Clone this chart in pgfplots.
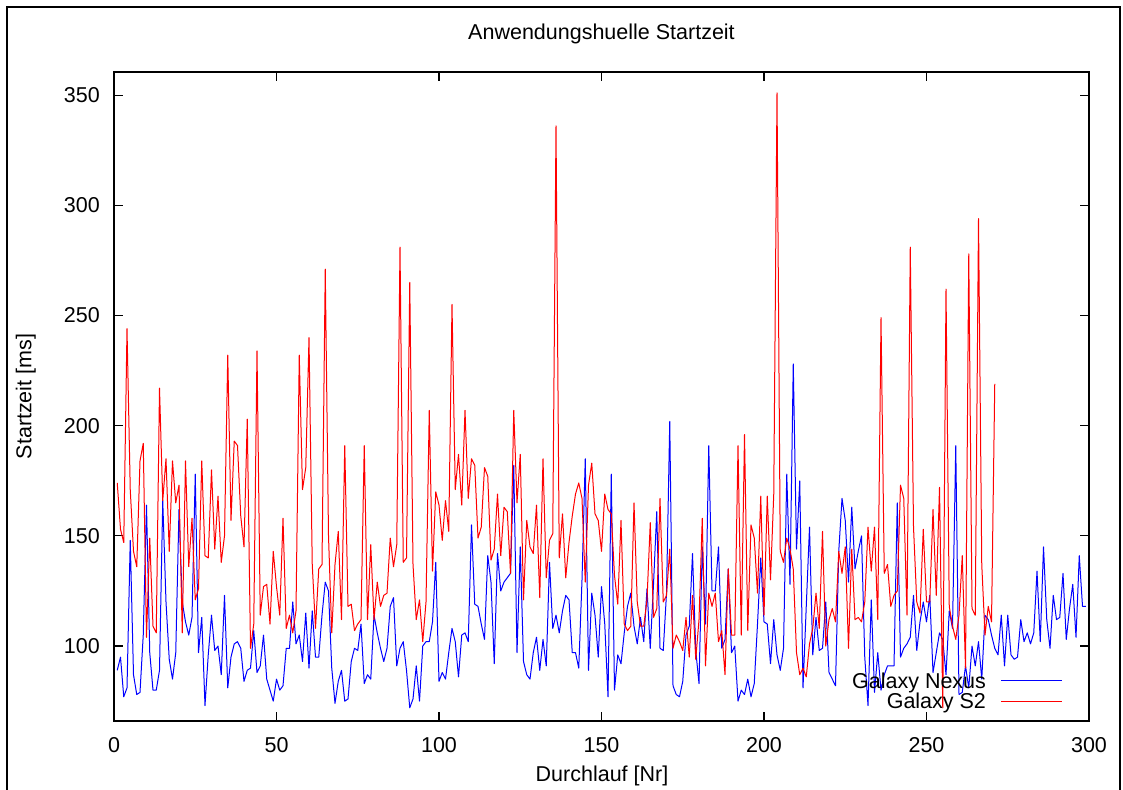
\documentclass[border=0pt]{standalone}
\usepackage{fontspec}
\setmainfont{Liberation Sans}
\usepackage{pgfplots}
\usepackage{pgfplotstable}
\pgfplotsset{compat=1.18}
\pgfplotstableread{
x y
1 89
2 95
3 77
4 81
5 148
6 87
7 78
8 79
9 105
10 164
11 97
12 80
13 80
14 89
15 166
16 120
17 94
18 85
19 97
20 162
21 120
22 111
23 105
24 113
25 178
26 97
27 113
28 73
29 96
30 114
31 98
32 100
33 87
34 123
35 81
36 95
37 101
38 102
39 99
40 84
41 89
42 90
43 107
44 88
45 91
46 105
47 85
48 80
49 75
50 85
51 80
52 82
53 99
54 99
55 120
56 101
57 105
58 93
59 115
60 90
61 116
62 95
63 95
64 114
65 129
66 125
67 90
68 74
69 84
70 89
71 75
72 76
73 93
74 99
75 98
76 110
77 83
78 87
79 85
80 114
81 106
82 99
83 93
84 99
85 118
86 122
87 91
88 99
89 102
90 89
91 72
92 76
93 91
94 75
95 100
96 102
97 102
98 111
99 138
100 84
101 88
102 85
103 97
104 108
105 102
106 86
107 105
108 106
109 102
110 155
111 119
112 118
113 110
114 103
115 141
116 129
117 92
118 142
119 125
120 129
121 131
122 133
123 182
124 97
125 145
126 93
127 87
128 85
129 97
130 104
131 89
132 103
133 91
134 138
135 108
136 114
137 106
138 116
139 123
140 121
141 97
142 97
143 90
144 130
145 185
146 89
147 124
148 114
149 95
150 127
151 110
152 77
153 178
154 80
155 96
156 92
157 106
158 118
159 124
160 109
161 101
162 113
163 102
164 126
165 99
166 128
167 161
168 99
169 98
170 124
171 202
172 82
173 78
174 77
175 84
176 105
177 109
178 142
179 98
180 83
181 145
182 110
183 191
184 125
185 125
186 145
187 99
188 103
189 135
190 97
191 100
192 75
193 80
194 78
195 85
196 77
197 83
198 110
199 140
200 111
201 110
202 92
203 112
204 96
205 89
206 99
207 178
208 128
209 228
210 144
211 175
212 81
213 118
214 154
215 96
216 113
217 98
218 99
219 120
220 88
221 85
222 82
223 143
224 167
225 157
226 129
227 163
228 135
229 143
230 150
231 95
232 73
233 121
234 79
235 97
236 80
237 87
238 91
239 91
240 91
241 165
242 95
243 99
244 101
245 104
246 123
247 98
248 111
249 120
250 111
251 123
252 88
253 97
254 106
255 103
256 87
257 116
258 108
259 191
260 78
261 79
262 91
263 81
264 100
265 91
266 102
267 85
268 114
269 112
270 105
271 99
272 96
273 114
274 91
275 114
276 96
277 94
278 95
279 112
280 102
281 106
282 101
283 106
284 134
285 102
286 145
287 112
288 99
289 123
290 112
291 113
292 133
293 103
294 117
295 128
296 104
297 141
298 118
299 118
}\nexus
\pgfplotstableread{
x y
1 174
2 153
3 147
4 244
5 171
6 143
7 136
8 184
9 192
10 104
11 149
12 109
13 106
14 217
15 166
16 185
17 143
18 184
19 165
20 173
21 106
22 184
23 136
24 158
25 121
26 126
27 184
28 141
29 140
30 180
31 144
32 168
33 138
34 150
35 232
36 157
37 193
38 191
39 159
40 145
41 203
42 99
43 110
44 234
45 114
46 127
47 128
48 110
49 143
50 127
51 114
52 158
53 108
54 114
55 106
56 116
57 232
58 171
59 181
60 240
61 137
62 108
63 135
64 137
65 271
66 150
67 106
68 137
69 152
70 112
71 191
72 118
73 119
74 107
75 110
76 112
77 191
78 112
79 146
80 112
81 129
82 118
83 123
84 124
85 149
86 136
87 146
88 281
89 138
90 140
91 265
92 137
93 112
94 121
95 102
96 120
97 207
98 134
99 170
100 164
101 148
102 166
103 152
104 255
105 171
106 187
107 164
108 207
109 167
110 185
111 182
112 149
113 154
114 181
115 177
116 139
117 144
118 169
119 141
120 163
121 161
122 133
123 207
124 165
125 187
126 121
127 157
128 145
129 142
130 164
131 122
132 185
133 131
134 148
135 151
136 336
137 140
138 160
139 131
140 147
141 159
142 169
143 174
144 167
145 129
146 173
147 183
148 160
149 157
150 143
151 169
152 162
153 160
154 132
155 119
156 157
157 110
158 107
159 109
160 165
161 120
162 109
163 109
164 121
165 156
166 113
167 117
168 167
169 120
170 123
171 144
172 99
173 105
174 102
175 98
176 113
177 95
178 123
179 94
180 112
181 158
182 91
183 124
184 118
185 124
186 102
187 107
188 87
189 135
190 105
191 105
192 191
193 105
194 196
195 107
196 155
197 149
198 124
199 168
200 114
201 168
202 130
203 169
204 351
205 143
206 138
207 149
208 144
209 135
210 97
211 87
212 90
213 86
214 101
215 108
216 124
217 108
218 152
219 100
220 112
221 117
222 111
223 143
224 133
225 145
226 99
227 144
228 112
229 113
230 111
231 120
232 154
233 134
234 154
235 112
236 249
237 133
238 137
239 118
240 123
241 125
242 173
243 167
244 114
245 281
246 154
247 120
248 115
249 153
250 120
251 120
252 162
253 123
254 172
255 72
256 262
257 118
258 109
259 103
260 114
261 141
262 90
263 278
264 117
265 114
266 294
267 137
268 105
269 118
270 111
271 219
}\stwo
\begin{document}
\begin{tikzpicture}[x=1pt,y=1pt]
\useasboundingbox (0,0) rectangle (1123,789);
\draw[line width=1.5pt] (7,-5) -- (7,782) -- (1120,782) -- (1120,-5);
\begin{axis}[
  at={(114pt,68pt)}, anchor=south west,
  scale only axis, width=975pt, height=649pt,
  xmin=0, xmax=300, ymin=66, ymax=360.5,
  xtick={0,50,...,300}, ytick={100,150,...,350},
  tick align=inside, major tick length=9pt,
  axis line style={line width=1.5pt},
  every tick/.style={line width=1.2pt, black},
  /pgf/number format/assume math mode=true,
  tick label style={font=\fontsize{21.5}{24}\selectfont},
  yticklabel style={inner sep=0pt, anchor=east, xshift=-14pt},
  xticklabel style={inner sep=0pt, anchor=north, yshift=-16pt},
  title={Anwendungshuelle Startzeit},
  title style={font=\fontsize{21.5}{24}\selectfont, at={(axis description cs:0.5,1.049)}, anchor=center, inner sep=0pt},
  xlabel={Durchlauf [Nr]},
  ylabel={Startzeit [ms]},
  label style={font=\fontsize{21.5}{24}\selectfont},
  xlabel style={at={(axis description cs:0.5005,-0.0847)}, anchor=center, inner sep=0pt},
  ylabel style={at={(axis description cs:-0.0905,0.5)}, anchor=center, inner sep=0pt},
  legend plot pos=right, legend cell align=right,
  legend image code/.code={\draw[#1] (0pt,0pt) -- (61pt,0pt);},
  legend style={draw=none, fill=none, at={(axis description cs:0.9733,0.0462)}, anchor=east,
    inner sep=0pt, outer sep=0pt, row sep=3pt, column sep=15pt,
    font=\fontsize{21.5}{24}\selectfont, nodes={inner sep=0pt}},
]
\addplot[blue, line width=1pt, line join=round] table[x=x,y=y] {\nexus};
\addlegendentry{Galaxy Nexus}
\addplot[red, line width=1pt, line join=round] table[x=x,y=y] {\stwo};
\addlegendentry{Galaxy S2}
\end{axis}
\end{tikzpicture}
\end{document}
